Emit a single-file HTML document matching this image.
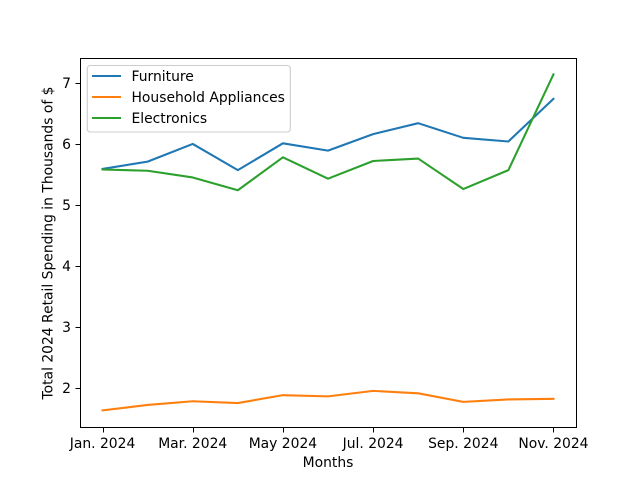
<!DOCTYPE html>
<html>
<head>
<meta charset="utf-8">
<style>
html,body{margin:0;padding:0;background:#fff;width:640px;height:480px;overflow:hidden}
svg{display:block}
text{font-family:"DejaVu Sans","Liberation Sans",sans-serif;font-size:13.89px;fill:#000}
</style>
</head>
<body>
<svg id="chart" width="640" height="480" viewBox="0 0 640 480" xmlns="http://www.w3.org/2000/svg">
<rect x="0" y="0" width="640" height="480" fill="#fff"/>
<g id="plot"></g>
<g id="ticks"></g>
<rect x="80.5" y="58.5" width="496" height="369" fill="none" stroke="#000" stroke-width="1"/>
<g id="legend">
<rect x="87.3" y="65.5" width="203" height="66.5" rx="3" ry="3" fill="#fff" fill-opacity="0.8" stroke="#ccc" stroke-width="1.11"/>
</g>
<text x="328" y="467" text-anchor="middle">Months</text>
<text transform="translate(52.3,243) rotate(-90)" text-anchor="middle">Total 2024 Retail Spending in Thousands of $</text>
</svg>
<script>
const categories = ["Jan. 2024","Feb. 2024","Mar. 2024","Apr. 2024","May 2024","Jun. 2024","Jul. 2024","Aug. 2024","Sep. 2024","Oct. 2024","Nov. 2024"];
const xTickLabels = ["Jan. 2024","Mar. 2024","May 2024","Jul. 2024","Sep. 2024","Nov. 2024"];
const yTickValues = [2,3,4,5,6,7];
const furniture = [5.59,5.71,6.00,5.57,6.01,5.89,6.16,6.34,6.10,6.04,6.74];
const householdAppliances = [1.63,1.72,1.78,1.75,1.88,1.86,1.95,1.91,1.77,1.81,1.82];
const electronics = [5.58,5.56,5.45,5.24,5.78,5.43,5.72,5.76,5.26,5.57,7.14];
const seriesNames = ["Furniture","Household Appliances","Electronics"];

const NS = "http://www.w3.org/2000/svg";
const left = 80, right = 576, top_ = 57.6, bottom = 427.2;
const allSeries = [furniture, householdAppliances, electronics];
const seriesColors = ["#1f77b4","#ff7f0e","#2ca02c"];
const seriesKeys = ["furniture","household-appliances","electronics"];

const allValues = allSeries.flat();
const dataMin = Math.min(...allValues);
const dataMax = Math.max(...allValues);
const yPad = (dataMax - dataMin) * 0.05;
const yLow = dataMin - yPad;
const yHigh = dataMax + yPad;
const xPad = (categories.length - 1) * 0.05;

function xScale(i) {
  return left + (i + xPad) / (categories.length - 1 + 2 * xPad) * (right - left);
}
function yScale(v) {
  return bottom - (v - yLow) / (yHigh - yLow) * (bottom - top_);
}
function snap(p) {
  return Math.floor(p + 0.5) + 0.5;
}

const plot = document.getElementById("plot");
const ticks = document.getElementById("ticks");
const legend = document.getElementById("legend");

allSeries.forEach(function (values, s) {
  const line = document.createElementNS(NS, "polyline");
  
  
  line.setAttribute("points", values.map(function (v, i) {
    return xScale(i).toFixed(2) + "," + yScale(v).toFixed(2);
  }).join(" "));
  line.setAttribute("fill", "none");
  line.setAttribute("stroke", seriesColors[s]);
  line.setAttribute("stroke-width", "2.08");
  line.setAttribute("stroke-linejoin", "round");
  line.setAttribute("stroke-linecap", "square");
  plot.appendChild(line);
});

xTickLabels.forEach(function (label) {
  const x = xScale(categories.indexOf(label));
  const mark = document.createElementNS(NS, "line");
  
  
  mark.setAttribute("x1", snap(x));
  mark.setAttribute("x2", snap(x));
  mark.setAttribute("y1", 427.5);
  mark.setAttribute("y2", 432.5);
  mark.setAttribute("stroke", "#000");
  mark.setAttribute("stroke-width", "1");
  ticks.appendChild(mark);
  const text = document.createElementNS(NS, "text");
  
  
  text.setAttribute("x", x);
  text.setAttribute("y", 448);
  text.setAttribute("text-anchor", "middle");
  text.textContent = label;
  ticks.appendChild(text);
});

yTickValues.forEach(function (v) {
  const y = yScale(v);
  const mark = document.createElementNS(NS, "line");
  
  
  mark.setAttribute("x1", 75.5);
  mark.setAttribute("x2", 80.5);
  mark.setAttribute("y1", snap(y));
  mark.setAttribute("y2", snap(y));
  mark.setAttribute("stroke", "#000");
  mark.setAttribute("stroke-width", "1");
  ticks.appendChild(mark);
  const text = document.createElementNS(NS, "text");
  
  
  text.setAttribute("x", 71);
  text.setAttribute("y", y + 5.3);
  text.setAttribute("text-anchor", "end");
  text.textContent = String(v);
  ticks.appendChild(text);
});

seriesNames.forEach(function (name, s) {
  const y = 76 + s * 21;
  const handle = document.createElementNS(NS, "line");
  
  
  handle.setAttribute("x1", 92);
  handle.setAttribute("x2", 121);
  handle.setAttribute("y1", y);
  handle.setAttribute("y2", y);
  handle.setAttribute("stroke", seriesColors[s]);
  handle.setAttribute("stroke-width", "2.08");
  legend.appendChild(handle);
  const text = document.createElementNS(NS, "text");
  
  
  text.setAttribute("x", 131.5);
  text.setAttribute("y", y + 5);
  text.textContent = name;
  legend.appendChild(text);
});
</script>
</body>
</html>
